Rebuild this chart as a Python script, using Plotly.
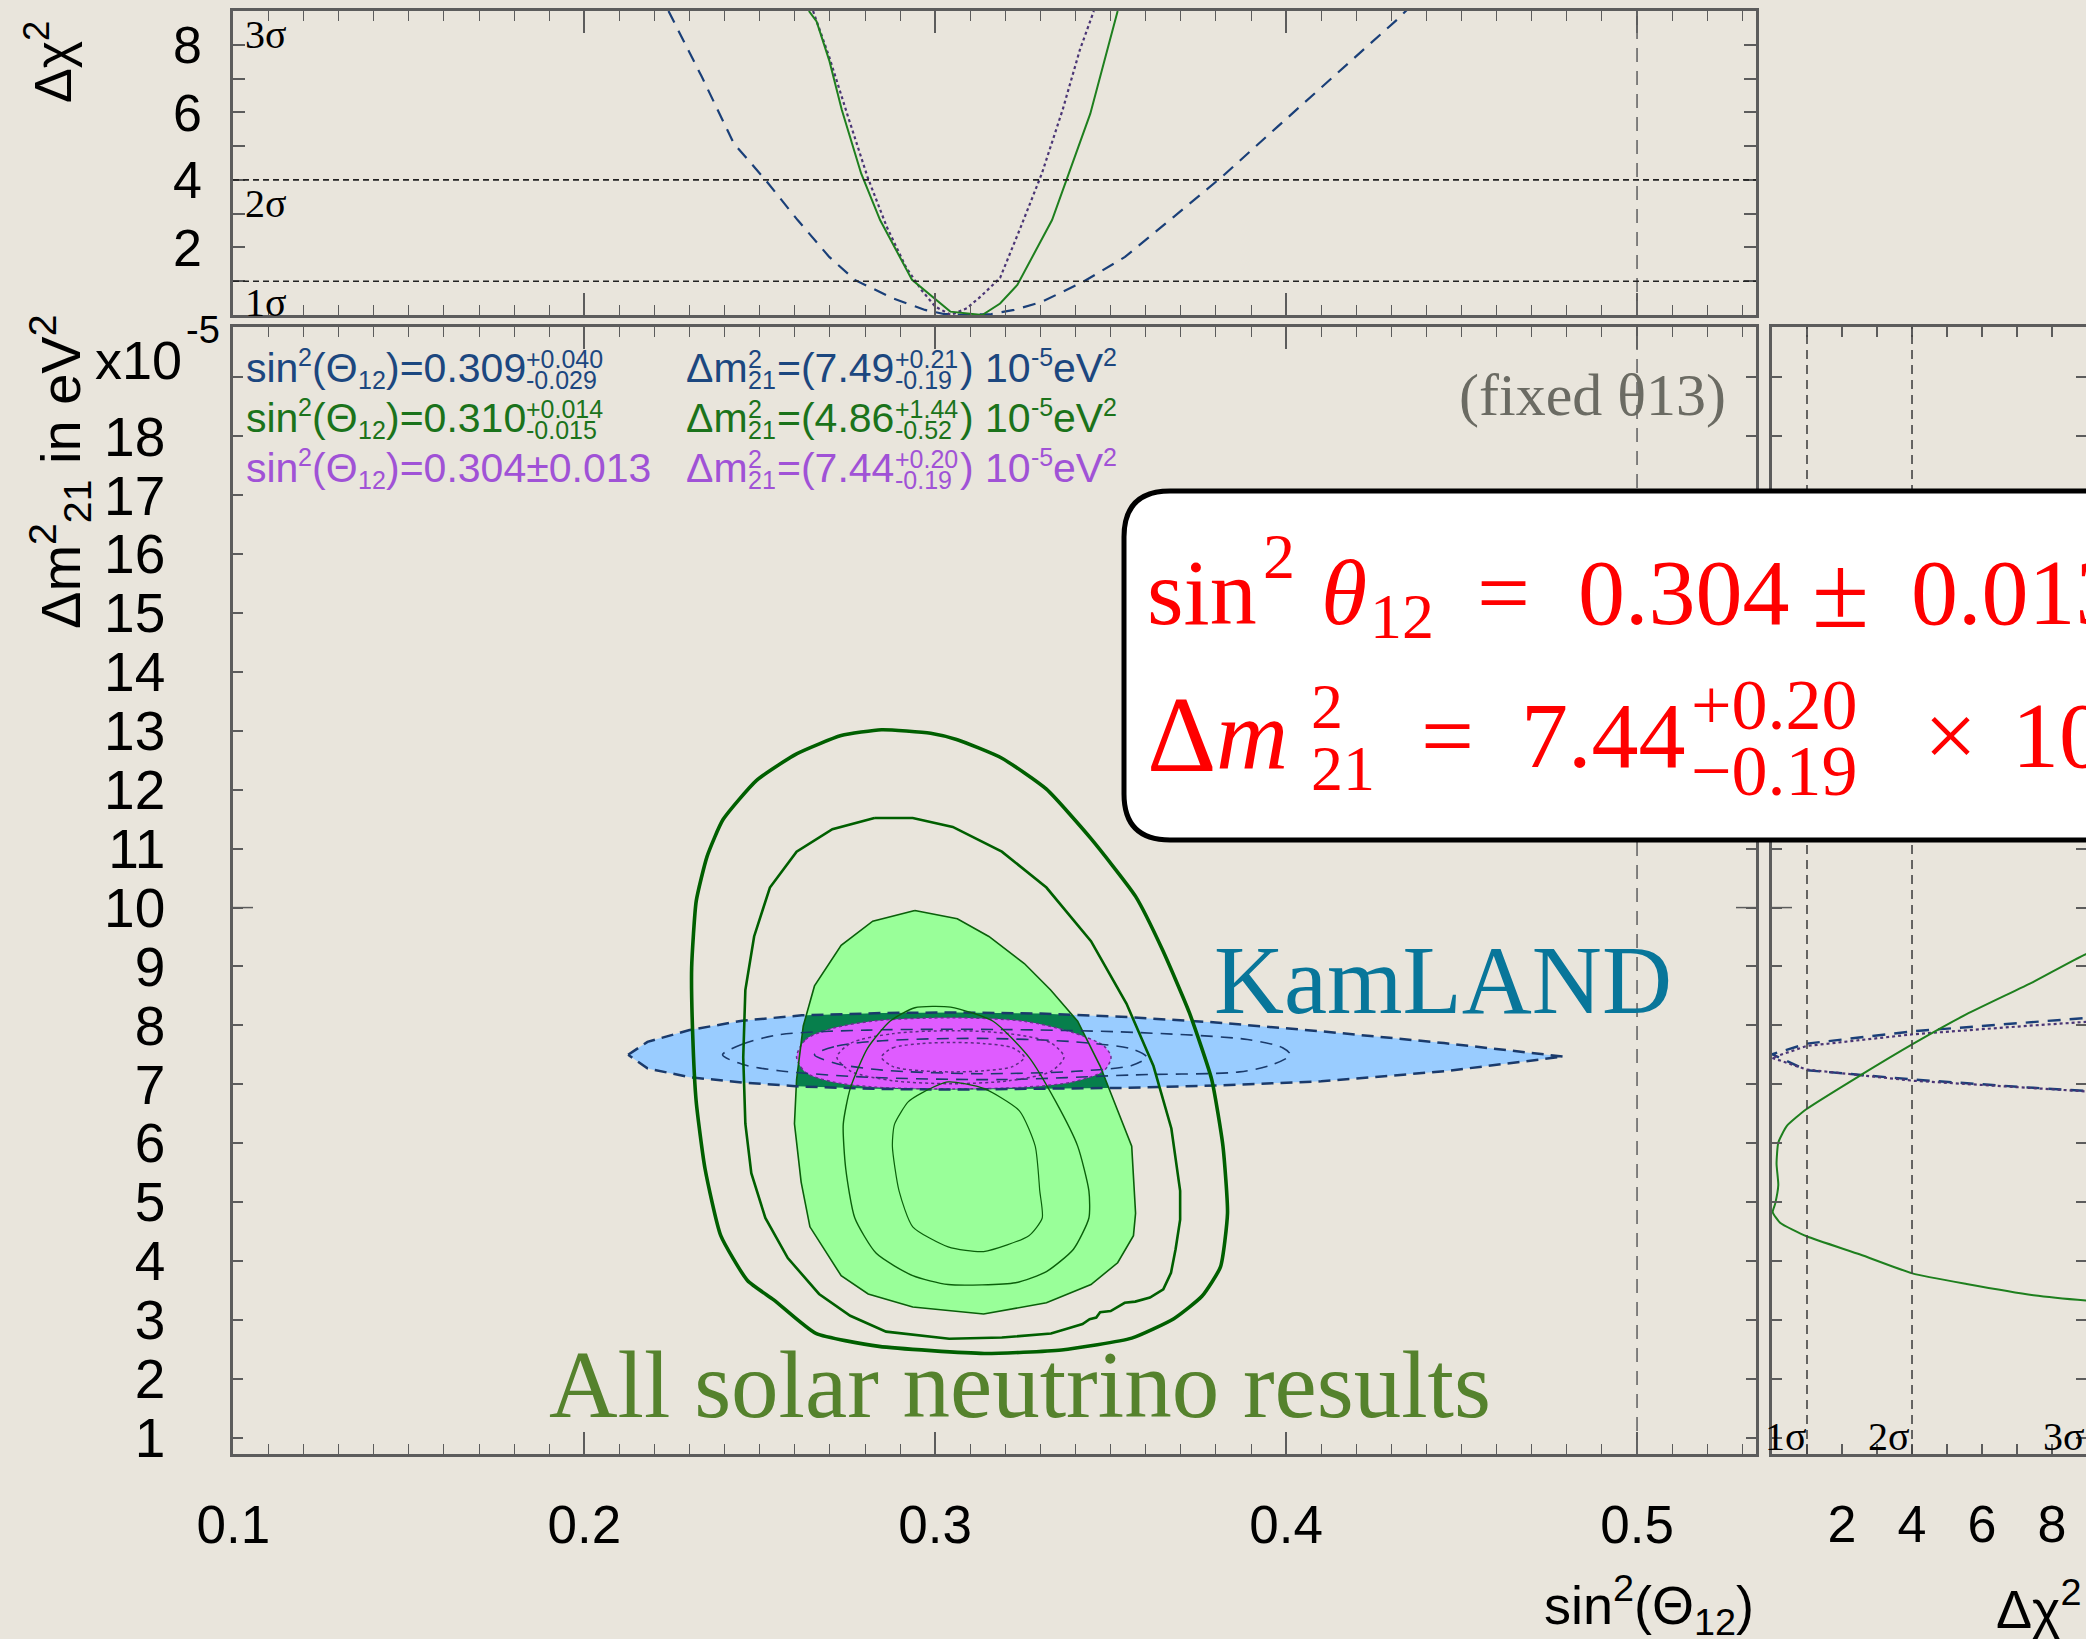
import plotly.graph_objects as go

W, H = 2086, 1639
BG = '#E9E5DC'
AX = '#5C5C5C'
SANS = 'Liberation Sans, Arial, sans-serif'
SERIF = 'Liberation Serif, Times New Roman, serif'

# ------------------------------------------------------------------ data
# top panel : delta chi2 versus sin^2(theta12)
top_kam_x = [0.2240, 0.2335, 0.2426, 0.2517, 0.2608, 0.2698, 0.2771, 0.2880, 0.2971, 0.3025, 0.3090,
             0.3160, 0.3225, 0.3304, 0.3423, 0.3541, 0.3679, 0.3817, 0.3975, 0.4133, 0.4320, 0.4370]
top_kam_y = [9.0, 7.05, 5.08, 3.99, 2.81, 1.72, 1.04, 0.49, 0.15, 0.03, 0.0,
             0.03, 0.15, 0.39, 0.99, 1.72, 2.90, 4.09, 5.57, 7.05, 8.78, 9.3]
top_sol_x = [0.2640, 0.2662, 0.2698, 0.2734, 0.2789, 0.2843, 0.2934, 0.3043, 0.3134, 0.3185, 0.3234,
             0.3333, 0.3442, 0.3520]
top_sol_y = [9.0, 8.69, 7.54, 6.07, 4.19, 2.81, 1.04, 0.10, 0.0, 0.34, 0.89, 2.81, 5.96, 9.0]
top_comb_x = [0.2652, 0.2698, 0.2752, 0.2807, 0.2862, 0.2916, 0.2960, 0.3000, 0.3045, 0.3090, 0.3130,
              0.3185, 0.3244, 0.3304, 0.3363, 0.3412, 0.3452]
top_comb_y = [9.0, 7.64, 5.86, 4.09, 2.61, 1.43, 0.75, 0.25, 0.0, 0.20, 0.55,
              1.10, 2.61, 4.19, 6.07, 7.84, 9.0]

# main panel : contours in (sin^2 theta12, dm2_21 [1e-5 eV^2])
kam3_x = [0.2125, 0.218, 0.230, 0.245, 0.262, 0.285, 0.306, 0.330, 0.355, 0.380, 0.410, 0.445, 0.479,
          0.445, 0.410, 0.380, 0.355, 0.330, 0.306, 0.285, 0.262, 0.245, 0.230, 0.218]
kam3_y = [7.50, 7.72, 7.92, 8.08, 8.17, 8.21, 8.22, 8.20, 8.14, 8.05, 7.90, 7.70, 7.47,
          7.22, 7.05, 6.98, 6.94, 6.92, 6.91, 6.92, 6.96, 7.03, 7.12, 7.27]
kam2_x = [0.2394, 0.2450, 0.2555, 0.2807, 0.3189, 0.3571, 0.3890, 0.3990, 0.4012, 0.3960, 0.3867,
          0.3571, 0.3189, 0.2807, 0.2555, 0.2450, 0.2394]
kam2_y = [7.50, 7.68, 7.84, 7.92, 7.93, 7.88, 7.76, 7.62, 7.50, 7.33, 7.21, 7.16, 7.08, 7.12, 7.23, 7.34, 7.50]
kam1_x = [0.2656, 0.2720, 0.2850, 0.3126, 0.3400, 0.3560, 0.3603, 0.3560, 0.3400, 0.3126, 0.2850, 0.2720, 0.2656]
kam1_y = [7.50, 7.65, 7.74, 7.78, 7.72, 7.60, 7.46, 7.32, 7.22, 7.18, 7.24, 7.35, 7.50]

comb3_x = [0.2605, 0.2631, 0.2707, 0.2832, 0.3050, 0.3254, 0.3392, 0.3481, 0.3501, 0.3481, 0.3392,
           0.3254, 0.3050, 0.2832, 0.2707, 0.2631, 0.2605]
comb3_y = [7.46, 7.76, 7.95, 8.08, 8.13, 8.07, 7.88, 7.65, 7.46, 7.23, 7.04, 6.95, 6.92, 6.95, 7.04, 7.20, 7.46]
comb2_x = [0.2720, 0.2760, 0.2880, 0.3044, 0.3210, 0.3330, 0.3367, 0.3330, 0.3210, 0.3044, 0.2880, 0.2760, 0.2720]
comb2_y = [7.46, 7.70, 7.86, 7.91, 7.86, 7.70, 7.46, 7.22, 7.06, 7.01, 7.06, 7.22, 7.46]
comb1_x = [0.2847, 0.2880, 0.2960, 0.3050, 0.3140, 0.3220, 0.3254, 0.3220, 0.3140, 0.3050, 0.2960, 0.2880, 0.2847]
comb1_y = [7.46, 7.62, 7.69, 7.71, 7.69, 7.62, 7.46, 7.30, 7.23, 7.21, 7.23, 7.30, 7.46]

sol_out_x = [0.2847, 0.2987, 0.3063, 0.3189, 0.3317, 0.3444, 0.3571, 0.3648, 0.3724, 0.3788, 0.3820,
             0.3833, 0.3813, 0.3760, 0.3680, 0.3560, 0.3360, 0.3140, 0.2840, 0.2660, 0.2540, 0.2465,
             0.2389, 0.2344, 0.2319, 0.2309, 0.2306, 0.2319, 0.2350, 0.2395, 0.2491, 0.2605, 0.2732, 0.2847]
sol_out_y = [13.02, 12.96, 12.85, 12.54, 12.01, 11.17, 10.19, 9.28, 8.22, 7.08, 5.95,
             4.81, 3.90, 3.40, 3.02, 2.69, 2.49, 2.43, 2.55, 2.77, 3.34, 3.67,
             4.43, 5.57, 6.70, 7.84, 8.98, 10.11, 10.87, 11.49, 12.16, 12.61, 12.92, 13.02]
sol_mid_x = [0.2827, 0.2936, 0.3050, 0.3190, 0.3317, 0.3444, 0.3545, 0.3622, 0.3673, 0.3698, 0.3698,
             0.3685, 0.3672, 0.3650, 0.3612, 0.3570, 0.3540, 0.3518, 0.3500, 0.3470, 0.3459, 0.3440,
             0.3420, 0.3380, 0.3330, 0.3190, 0.3040, 0.2860, 0.2758, 0.2669, 0.2580, 0.2516, 0.2476,
             0.2459, 0.2453, 0.2459, 0.2484, 0.2529, 0.2605, 0.2707, 0.2827]
sol_mid_y = [11.52, 11.52, 11.37, 10.95, 10.34, 9.43, 8.37, 7.31, 6.25, 5.19, 4.70,
             4.20, 3.80, 3.52, 3.38, 3.31, 3.29, 3.22, 3.15, 3.13, 3.04, 3.01,
             2.93, 2.86, 2.77, 2.70, 2.68, 2.80, 3.07, 3.44, 4.05, 4.73, 5.49,
             6.33, 7.46, 8.60, 9.51, 10.34, 10.95, 11.33, 11.52]
sol_fill_x = [0.2942, 0.3063, 0.3153, 0.3254, 0.3329, 0.3406, 0.3470, 0.3520, 0.3560, 0.3571, 0.3565,
              0.3520, 0.3444, 0.3317, 0.3138, 0.2936, 0.2809, 0.2732, 0.2643, 0.2618, 0.2599, 0.2605,
              0.2624, 0.2656, 0.2732, 0.2822]
sol_fill_y = [9.95, 9.81, 9.51, 9.05, 8.60, 8.07, 7.31, 6.55, 5.95, 4.81, 4.43,
              3.97, 3.60, 3.29, 3.10, 3.22, 3.44, 3.75, 4.58, 5.34, 6.33, 7.08,
              7.99, 8.67, 9.36, 9.77]
sol_a_x = [0.2942, 0.3044, 0.3165, 0.3267, 0.3344, 0.3406, 0.3438, 0.3438, 0.3394, 0.3317, 0.3229,
           0.3037, 0.2936, 0.2832, 0.2771, 0.2745, 0.2738, 0.2758, 0.2807, 0.2871, 0.2942]
sol_a_y = [8.30, 8.31, 8.07, 7.46, 6.70, 5.95, 5.19, 4.73, 4.20, 3.82, 3.63,
           3.60, 3.75, 4.13, 4.73, 5.57, 6.32, 6.93, 7.61, 8.07, 8.30]
sol_b_x = [0.3037, 0.3138, 0.3240, 0.3285, 0.3298, 0.3305, 0.3267, 0.3138, 0.3037, 0.2936, 0.2897,
           0.2878, 0.2884, 0.2923, 0.2961, 0.3037]
sol_b_y = [7.04, 6.93, 6.55, 5.95, 5.19, 4.73, 4.43, 4.16, 4.24, 4.58, 5.19,
           5.95, 6.32, 6.70, 6.85, 7.04]

# right panel : dm2_21 versus delta chi2
r_sol_chi = [10.0, 8.97, 7.47, 5.56, 4.04, 2.52, 0.99, 0.42, 0.18, 0.13, 0.18, 0.09, 0.02, 0.23, 0.99,
             2.52, 4.01, 5.56, 7.47, 8.98, 10.0]
r_sol_dm = [9.40, 9.21, 8.74, 8.19, 7.69, 7.15, 6.58, 6.29, 6.01, 5.65, 5.29, 4.97, 4.83, 4.65, 4.42,
            4.11, 3.79, 3.61, 3.42, 3.33, 3.29]
r_kam_chi = [9.5, 7.47, 4.04, 0.99, 0.0, 0.99, 4.04, 7.47, 9.5]
r_kam_dm = [8.15, 8.06, 7.90, 7.69, 7.51, 7.24, 7.08, 6.94, 6.87]
r_comb_chi = [9.5, 7.47, 4.04, 0.99, 0.0, 0.99, 4.04, 7.47, 9.5]
r_comb_dm = [8.08, 8.00, 7.85, 7.65, 7.45, 7.25, 7.06, 6.93, 6.86]

# axis ticks
x_ticks = [0.1, 0.2, 0.3, 0.4, 0.5]
x_ticktext = ['0.1', '0.2', '0.3', '0.4', '0.5']
dm_ticks = list(range(1, 20))
dm_ticktext = [str(v) for v in range(1, 19)] + [' ']
chi_ticks = list(range(1, 9))
chi_ticktext = [' ', '2', ' ', '4', ' ', '6', ' ', '8']

# legend text
leg_rows = [
    ('#1C477F', [('n', 'sin'), ('sup', '2'), ('n', '(Θ'), ('sub', '12'), ('n', ')=0.309'), ('st', '+0.040', '-0.029')],
                [('n', 'Δm'), ('st', '2', '21'), ('n', '=(7.49'), ('st', '+0.21', '-0.19'), ('n', ') 10'), ('sup', '-5'), ('n', 'eV'), ('sup', '2')]),
    ('#1B731B', [('n', 'sin'), ('sup', '2'), ('n', '(Θ'), ('sub', '12'), ('n', ')=0.310'), ('st', '+0.014', '-0.015')],
                [('n', 'Δm'), ('st', '2', '21'), ('n', '=(4.86'), ('st', '+1.44', '-0.52'), ('n', ') 10'), ('sup', '-5'), ('n', 'eV'), ('sup', '2')]),
    ('#A052D6', [('n', 'sin'), ('sup', '2'), ('n', '(Θ'), ('sub', '12'), ('n', ')=0.304±0.013')],
                [('n', 'Δm'), ('st', '2', '21'), ('n', '=(7.44'), ('st', '+0.20', '-0.19'), ('n', ') 10'), ('sup', '-5'), ('n', 'eV'), ('sup', '2')]),
]

# ------------------------------------------------------------------ helpers
def px(x):
    return x / W


def py(y):
    return 1 - y / H


def ann(x, y, text, size, color='black', family=SANS, xanchor='left', yanchor='middle', angle=0):
    return dict(x=px(x), y=py(y), xref='paper', yref='paper', text=text, showarrow=False,
                font=dict(size=size, color=color, family=family), xanchor=xanchor, yanchor=yanchor,
                textangle=angle, borderpad=0, borderwidth=0)


AW = {'0': 556, '1': 556, '2': 556, '3': 556, '4': 556, '5': 556, '6': 556, '7': 556, '8': 556, '9': 556,
      '.': 278, '=': 584, '(': 333, ')': 333, '+': 584, '-': 333, '±': 584, 's': 500, 'i': 222, 'n': 556,
      'Θ': 778, 'Δ': 668, 'm': 833, 'e': 556, 'V': 667, ' ': 278}


def tw(s, size):
    return sum(AW.get(c, 556) for c in s) * size / 1000.0


def text_row(x0, yc, segs, F, S, color, out):
    x = x0
    for seg in segs:
        kind = seg[0]
        if kind == 'n':
            out.append(ann(x, yc, seg[1], F, color))
            x += tw(seg[1], F)
        elif kind == 'sup':
            out.append(ann(x, yc - 11, seg[1], S, color))
            x += tw(seg[1], S)
        elif kind == 'sub':
            out.append(ann(x, yc + 12, seg[1], S, color))
            x += tw(seg[1], S)
        else:
            out.append(ann(x, yc - 9, seg[1], S, color))
            out.append(ann(x, yc + 12, seg[2], S, color))
            x += max(tw(seg[1], S), tw(seg[2], S)) + 2


def area(poly):
    a = 0.0
    for i in range(len(poly)):
        x1, y1 = poly[i]
        x2, y2 = poly[(i + 1) % len(poly)]
        a += x1 * y2 - x2 * y1
    return a / 2


def clip_convex(subject, clip):
    if area(clip) < 0:
        clip = clip[::-1]

    def inside(p, a, b):
        return (b[0] - a[0]) * (p[1] - a[1]) - (b[1] - a[1]) * (p[0] - a[0]) >= 0

    def inter(p, q, a, b):
        x1, y1 = p
        x2, y2 = q
        x3, y3 = a
        x4, y4 = b
        den = (x1 - x2) * (y3 - y4) - (y1 - y2) * (x3 - x4)
        t = ((x1 - x3) * (y3 - y4) - (y1 - y3) * (x3 - x4)) / den
        return (x1 + t * (x2 - x1), y1 + t * (y2 - y1))

    out = list(subject)
    for i in range(len(clip)):
        a, b = clip[i], clip[(i + 1) % len(clip)]
        inp, out = out, []
        if not inp:
            break
        s = inp[-1]
        for e in inp:
            if inside(e, a, b):
                if not inside(s, a, b):
                    out.append(inter(s, e, a, b))
                out.append(e)
            elif inside(s, a, b):
                out.append(inter(s, e, a, b))
            s = e
    return out


# ------------------------------------------------------------------ figure
fig = go.Figure()
M = dict(xaxis='x', yaxis='y')
T = dict(xaxis='x2', yaxis='y2')
R = dict(xaxis='x3', yaxis='y3')


def closed(xs, ys):
    return list(xs) + [xs[0]], list(ys) + [ys[0]]


# fills
kx, ky = closed(kam3_x, kam3_y)
fig.add_trace(go.Scatter(x=kx, y=ky, mode='lines', fill='toself', fillcolor='#99CCFF',
                         line=dict(width=0, color='#99CCFF'), hoverinfo='skip', **M))
gx, gy = closed(sol_fill_x, sol_fill_y)
fig.add_trace(go.Scatter(x=gx, y=gy, mode='lines', fill='toself', fillcolor='#99FF99',
                         line=dict(width=0, color='#99FF99'), hoverinfo='skip', **M))
inter_poly = clip_convex(list(zip(sol_fill_x, sol_fill_y)), list(zip(kam3_x, kam3_y)))
if inter_poly:
    ix = [p[0] for p in inter_poly] + [inter_poly[0][0]]
    iy = [p[1] for p in inter_poly] + [inter_poly[0][1]]
    fig.add_trace(go.Scatter(x=ix, y=iy, mode='lines', fill='toself', fillcolor='#077F4C',
                             line=dict(width=0, color='#077F4C'), hoverinfo='skip', **M))
fig.add_trace(go.Scatter(x=comb3_x, y=comb3_y, mode='lines', fill='toself', fillcolor='#DF5CFF',
                         line=dict(width=1.5, color='#6A2E8E', dash='dot', shape='spline', smoothing=0.8),
                         hoverinfo='skip', **M))

# lines
fig.add_trace(go.Scatter(x=gx, y=gy, mode='lines', line=dict(width=1.6, color='#0A5F0A'), hoverinfo='skip', **M))
fig.add_trace(go.Scatter(x=kx, y=ky, mode='lines', line=dict(width=2.5, color='#1A3A6B', dash='12px,7px'),
                         hoverinfo='skip', **M))
for xs, ys in [(kam2_x, kam2_y), (kam1_x, kam1_y)]:
    fig.add_trace(go.Scatter(x=xs, y=ys, mode='lines',
                             line=dict(width=1.6, color='#1A3A6B', dash='12px,8px', shape='spline', smoothing=0.8),
                             hoverinfo='skip', **M))
for xs, ys in [(comb2_x, comb2_y), (comb1_x, comb1_y)]:
    fig.add_trace(go.Scatter(x=xs, y=ys, mode='lines',
                             line=dict(width=1.5, color='#5B2C82', dash='dot', shape='spline', smoothing=0.8),
                             hoverinfo='skip', **M))
fig.add_trace(go.Scatter(x=sol_a_x, y=sol_a_y, mode='lines',
                         line=dict(width=1.4, color='#0A5F0A', shape='spline', smoothing=0.6), hoverinfo='skip', **M))
fig.add_trace(go.Scatter(x=sol_b_x, y=sol_b_y, mode='lines',
                         line=dict(width=1.2, color='#0A5F0A', shape='spline', smoothing=0.6), hoverinfo='skip', **M))
fig.add_trace(go.Scatter(x=sol_mid_x, y=sol_mid_y, mode='lines',
                         line=dict(width=2.6, color='#005F00'), hoverinfo='skip', **M))
fig.add_trace(go.Scatter(x=sol_out_x, y=sol_out_y, mode='lines',
                         line=dict(width=3.6, color='#005F00', shape='spline', smoothing=0.5), hoverinfo='skip', **M))

# top panel curves
fig.add_trace(go.Scatter(x=top_kam_x, y=top_kam_y, mode='lines',
                         line=dict(width=2.2, color='#1A3F78', dash='13px,9px'), hoverinfo='skip', **T))
fig.add_trace(go.Scatter(x=top_comb_x, y=top_comb_y, mode='lines',
                         line=dict(width=2.2, color='#4A3575', dash='dot'), hoverinfo='skip', **T))
fig.add_trace(go.Scatter(x=top_sol_x, y=top_sol_y, mode='lines',
                         line=dict(width=2.0, color='#1E7F1E'), hoverinfo='skip', **T))

# right panel curves
fig.add_trace(go.Scatter(x=r_kam_chi, y=r_kam_dm, mode='lines',
                         line=dict(width=2.4, color='#1A3F78', dash='13px,9px'), hoverinfo='skip', **R))
fig.add_trace(go.Scatter(x=r_comb_chi, y=r_comb_dm, mode='lines',
                         line=dict(width=2.2, color='#4A3575', dash='dot'), hoverinfo='skip', **R))
fig.add_trace(go.Scatter(x=r_sol_chi, y=r_sol_dm, mode='lines',
                         line=dict(width=2.0, color='#1E7F1E', shape='spline', smoothing=0.5), hoverinfo='skip', **R))

# ------------------------------------------------------------------ axes
xdom = [233 / W, 1756 / W]
ydom = [1 - 1454 / H, 1 - 327 / H]
tdom = [1 - 315 / H, 1 - 11 / H]
rdom = [1772 / W, 1.0]

common = dict(showline=True, linecolor=AX, linewidth=2.5, mirror='ticks', ticks='inside', tickcolor=AX,
              tickwidth=1.5, showgrid=False, zeroline=False, automargin=False)
minor_x = dict(dtick=0.01, tick0=0.1, ticklen=10, ticks='inside', tickcolor=AX, tickwidth=1.3, showgrid=False)
tfont = dict(family=SANS, size=53, color='black')

fig.update_layout(
    width=W, height=H, margin=dict(l=0, r=0, t=0, b=0, autoexpand=False),
    paper_bgcolor=BG, plot_bgcolor='rgba(0,0,0,0)', showlegend=False,
    font=dict(family=SANS, color='black'),
    xaxis=dict(domain=xdom, range=[0.0999, 0.5339], anchor='y', tickvals=x_ticks, ticktext=x_ticktext,
               ticklen=22, tickfont=tfont, ticklabelstandoff=23, minor=minor_x, **common),
    yaxis=dict(domain=ydom, range=[0.723, 19.857], anchor='x', tickvals=dm_ticks, ticktext=dm_ticktext,
               ticklen=10, tickfont=dict(family=SANS, size=55, color='black'), ticklabelstandoff=54, **common),
    xaxis2=dict(domain=xdom, range=[0.0999, 0.5339], anchor='y2', matches='x', tickvals=x_ticks,
                showticklabels=False, ticklen=22, minor=minor_x, **common),
    yaxis2=dict(domain=tdom, range=[0, 9], anchor='x2', tickvals=chi_ticks, ticktext=chi_ticktext,
                ticklen=12, tickfont=dict(family=SANS, size=52, color='black'), ticklabelstandoff=18, **common),
    xaxis3=dict(domain=rdom, range=[0, 8.971], anchor='y3', tickvals=chi_ticks, ticktext=chi_ticktext,
                ticklen=10, tickfont=dict(family=SANS, size=52, color='black'), ticklabelstandoff=23, **common),
    yaxis3=dict(domain=ydom, range=[0.723, 19.857], anchor='x3', matches='y', tickvals=dm_ticks,
                showticklabels=False, ticklen=10, **common),
)

# ------------------------------------------------------------------ shapes
shapes = [
    dict(type='line', xref='x', yref='y domain', x0=0.5, x1=0.5, y0=0, y1=1,
         line=dict(color='#666666', width=1.6, dash='14px,9px')),
    dict(type='line', xref='x2', yref='y2 domain', x0=0.5, x1=0.5, y0=0, y1=1,
         line=dict(color='#666666', width=1.6, dash='14px,9px')),
    dict(type='line', xref='x2 domain', yref='y2', x0=0, x1=1, y0=1, y1=1,
         line=dict(color='#222222', width=1.6, dash='6px,4px')),
    dict(type='line', xref='x2 domain', yref='y2', x0=0, x1=1, y0=4, y1=4,
         line=dict(color='#222222', width=1.6, dash='6px,4px')),
    dict(type='line', xref='x3', yref='y3 domain', x0=1, x1=1, y0=0, y1=1,
         line=dict(color='#444444', width=1.6, dash='9px,6px')),
    dict(type='line', xref='x3', yref='y3 domain', x0=4, x1=4, y0=0, y1=1,
         line=dict(color='#444444', width=1.6, dash='9px,6px')),
    # longer major ticks at dm2 = 10
    dict(type='line', xref='x domain', yref='y', x0=0, x1=20 / 1523, y0=10, y1=10,
         line=dict(color=AX, width=1.5)),
    dict(type='line', xref='x domain', yref='y', x0=1 - 20 / 1523, x1=1, y0=10, y1=10,
         line=dict(color=AX, width=1.5)),
    dict(type='line', xref='x3 domain', yref='y3', x0=0, x1=20 / 314, y0=10, y1=10,
         line=dict(color=AX, width=1.5)),
]
L, Tp, B, Rr, rad = 1124, 491, 840, 2300, 46
path = (f'M {px(L + rad)},{py(Tp)} L {px(Rr)},{py(Tp)} L {px(Rr)},{py(B)} L {px(L + rad)},{py(B)} '
        f'Q {px(L)},{py(B)} {px(L)},{py(B - rad)} L {px(L)},{py(Tp + rad)} '
        f'Q {px(L)},{py(Tp)} {px(L + rad)},{py(Tp)} Z')
shapes.append(dict(type='path', xref='paper', yref='paper', path=path, fillcolor='white',
                   line=dict(color='black', width=5), layer='above'))
fig.update_layout(shapes=shapes)

# ------------------------------------------------------------------ annotations
A = []
# legend
for (color, c1, c2), yc in zip(leg_rows, [368, 418, 468]):
    text_row(246, yc, c1, 41, 25, color, A)
    text_row(686, yc, c2, 41, 25, color, A)

# sigma labels
for txt, yc in [('3σ', 35), ('2σ', 203), ('1σ', 302)]:
    A.append(ann(245, yc, txt, 40, 'black', SERIF))
for txt, xl in [('1σ', 1765), ('2σ', 1868), ('3σ', 2043)]:
    A.append(ann(xl, 1436, txt, 40, 'black', SERIF))

# axis titles
A.append(ann(49, 62, 'Δχ<sup>2</sup>', 52, angle=-90, xanchor='center'))
A.append(ann(60, 472, 'Δm<sup>2</sup><sub>21</sub> in eV<sup>2</sup>', 56, angle=-90, xanchor='center'))
A.append(ann(95, 360, 'x10', 54))
A.append(ann(186, 330, '-5', 38))
A.append(ann(1754, 1605, 'sin<sup>2</sup>(Θ<sub>12</sub>)', 54, xanchor='right'))
A.append(ann(1996, 1605, 'Δχ<sup>2</sup>', 54))

# panel labels
A.append(ann(1459, 395, '(fixed θ13)', 60, '#6B6B63', SERIF))
A.append(ann(1214, 980, 'KamLAND', 97, '#08769A', SERIF))
A.append(ann(549, 1385, 'All solar neutrino results', 95, '#55822D', SERIF))

# red result box
RED = '#FF0000'
A += [
    ann(1147, 592, 'sin', 94, RED, SERIF),
    ann(1263, 556, '2', 64, RED, SERIF),
    ann(1321, 592, '<i>θ</i>', 94, RED, SERIF),
    ann(1370, 616, '12', 64, RED, SERIF),
    ann(1477, 592, '=', 94, RED, SERIF),
    ann(1578, 592, '0.304', 94, RED, SERIF),
    ann(1812, 592, '±', 104, RED, SERIF),
    ann(1911, 592, '0.013', 94, RED, SERIF),
    ann(1147, 735, 'Δ', 108, RED, SERIF),
    ann(1216, 735, '<i>m</i>', 100, RED, SERIF),
    ann(1311, 706, '2', 64, RED, SERIF),
    ann(1311, 768, '21', 64, RED, SERIF),
    ann(1421, 735, '=', 94, RED, SERIF),
    ann(1521, 735, '7.44', 94, RED, SERIF),
    ann(1691, 705, '+0.20', 72, RED, SERIF),
    ann(1691, 771, '−0.19', 72, RED, SERIF),
    ann(1924, 735, '×', 94, RED, SERIF),
    ann(2012, 735, '10', 94, RED, SERIF),
]
fig.update_layout(annotations=A)

fig.write_html('out.html')
